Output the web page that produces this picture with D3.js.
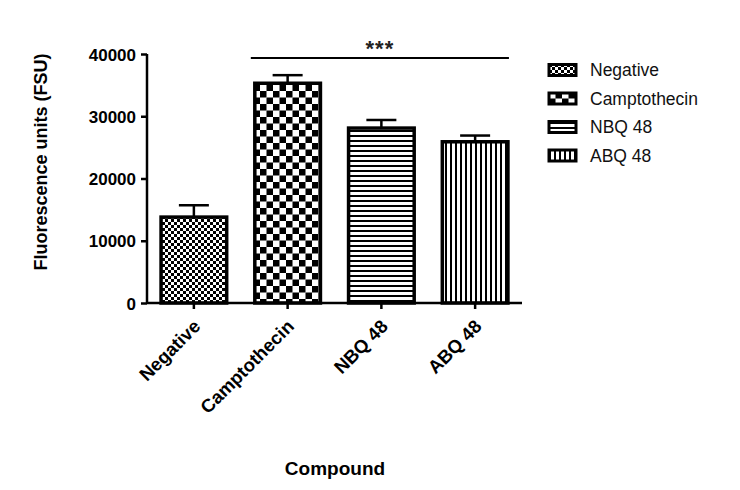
<!DOCTYPE html>
<html>
<head>
<meta charset="utf-8">
<script src="https://cdn.jsdelivr.net/npm/d3@7"></script>
<style>
  body { margin: 0; background: #fff; }
  svg { font-family: "Liberation Sans", Arial, sans-serif; }
</style>
</head>
<body>
<svg id="chart" width="740" height="490"></svg>
<script>
// data
const compounds = ['Negative', 'Camptothecin', 'NBQ 48', 'ABQ 48'];
const means = [13800, 35300, 28100, 25900];
const sems = [1900, 1300, 1300, 1000];
const yTicks = [0, 10000, 20000, 30000, 40000];
const patternIds = ['pNeg', 'pCamp', 'pNbq', 'pAbq'];

const svg = d3.select('#chart');

const x = d3.scaleBand().domain(compounds).range([147, 522])
  .paddingInner(0.3).paddingOuter(0.15);
const y = d3.scaleLinear().domain([0, 40000]).range([303, 54]);

// fill patterns
const defs = svg.append('defs');
function pat(id, w, h, rects) {
  const p = defs.append('pattern').attr('id', id)
    .attr('patternUnits', 'userSpaceOnUse').attr('width', w).attr('height', h);
  p.append('rect').attr('width', w).attr('height', h).attr('fill', '#fff');
  rects.forEach(r => p.append('rect')
    .attr('x', r[0]).attr('y', r[1]).attr('width', r[2]).attr('height', r[3]).attr('fill', '#000'));
}
pat('pNeg', 6, 6, [[0, 0, 3, 3], [3, 3, 3, 3]]);
pat('pCamp', 13, 13, [[0, 0, 6.5, 6.5], [6.5, 6.5, 6.5, 6.5]]);
pat('pNbq', 6, 5, [[0, 0, 6, 2]]);
pat('pAbq', 5, 6, [[0, 0, 2, 6]]);

// bars
svg.append('g').selectAll('rect').data(compounds).join('rect')
  .attr('x', d => x(d))
  .attr('y', (d, i) => y(means[i]))
  .attr('width', x.bandwidth())
  .attr('height', (d, i) => y(0) - y(means[i]))
  .attr('fill', (d, i) => `url(#${patternIds[i]})`)
  .attr('stroke', '#000').attr('stroke-width', 3.5);

// error bars (upper only)
const err = svg.append('g').attr('stroke', '#000').attr('stroke-width', 2.5);
compounds.forEach((d, i) => {
  const cx = x(d) + x.bandwidth() / 2;
  err.append('line').attr('x1', cx).attr('x2', cx)
    .attr('y1', y(means[i])).attr('y2', y(means[i] + sems[i]));
  err.append('line').attr('x1', cx - 15).attr('x2', cx + 15)
    .attr('y1', y(means[i] + sems[i])).attr('y2', y(means[i] + sems[i]));
});

// axes
const yAxis = svg.append('g').attr('transform', 'translate(147,0)')
  .call(d3.axisLeft(y).tickValues(yTicks).tickSize(6).tickFormat(d3.format('d')));
const xAxis = svg.append('g').attr('transform', 'translate(0,303)')
  .call(d3.axisBottom(x).tickSize(6));
[yAxis, xAxis].forEach(a => {
  a.select('.domain').attr('stroke-width', 2.5);
  a.selectAll('.tick line').attr('stroke-width', 2.5);
  a.selectAll('text').attr('font-size', 17).attr('font-weight', 'bold')
    .attr('font-family', '"Liberation Sans", Arial, sans-serif').attr('fill', '#000');
});
yAxis.select('.domain').attr('d', 'M-0,303V54');
yAxis.selectAll('text').attr('x', -11).attr('dy', '0.36em');
xAxis.select('.domain').attr('d', 'M147,0H522');
xAxis.selectAll('text')
  .attr('font-size', 18.5)
  .attr('text-anchor', 'end')
  .attr('transform', 'translate(3,20) rotate(-45)')
  .attr('x', 0).attr('y', 0).attr('dy', '0.35em');

// significance bar
const sx1 = x('Camptothecin') - 4, sx2 = x('ABQ 48') + x.bandwidth() + 1;
svg.append('line').attr('x1', sx1).attr('x2', sx2).attr('y1', 58).attr('y2', 58)
  .attr('stroke', '#000').attr('stroke-width', 2);
svg.append('text').attr('x', (sx1 + sx2) / 2).attr('y', 56)
  .attr('text-anchor', 'middle').attr('font-size', 22).attr('font-weight', 'bold')
  .attr('letter-spacing', 1).attr('fill', '#222')
  .text('***');

// axis titles
svg.append('text').attr('transform', 'translate(47,162) rotate(-90)')
  .attr('text-anchor', 'middle').attr('font-size', 18).attr('font-weight', 'bold')
  .text('Fluorescence units (FSU)');
svg.append('text').attr('x', 335).attr('y', 475)
  .attr('text-anchor', 'middle').attr('font-size', 19).attr('font-weight', 'bold')
  .text('Compound');

// legend
const leg = svg.append('g').attr('transform', 'translate(549,0)');
const rows = leg.selectAll('g').data(compounds).join('g')
  .attr('transform', (d, i) => `translate(0,${70 + i * 28.5})`);
rows.append('rect').attr('x', 0).attr('y', -5.5).attr('width', 27).attr('height', 11)
  .attr('fill', (d, i) => `url(#${patternIds[i]})`)
  .attr('stroke', '#000').attr('stroke-width', 3);
rows.append('text').attr('x', 41).attr('dy', '0.35em')
  .attr('font-size', 17.5).attr('fill', '#111').text(d => d);
</script>
</body>
</html>
